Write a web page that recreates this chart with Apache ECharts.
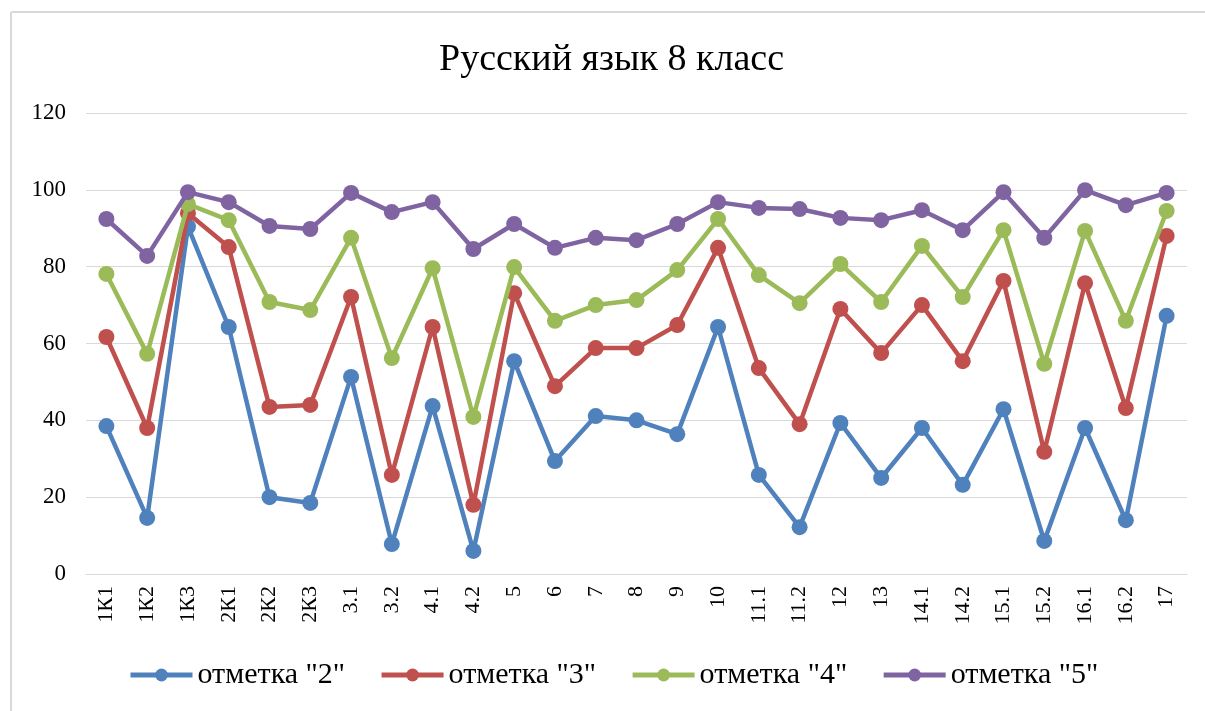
<!DOCTYPE html>
<html>
<head>
<meta charset="utf-8">
<script src="https://cdn.jsdelivr.net/npm/echarts@6/dist/echarts.min.js"></script>
<style>
  html, body { margin: 0; padding: 0; background: #ffffff; }
  #chart { width: 1205px; height: 711px; }
</style>
</head>
<body>
<div id="chart"></div>
<script>
// Task labels along the x axis
const categories = ['1К1', '1К2', '1К3', '2К1', '2К2', '2К3', '3.1', '3.2', '4.1', '4.2', '5', '6', '7', '8', '9', '10',
  '11.1', '11.2', '12', '13', '14.1', '14.2', '15.1', '15.2', '16.1', '16.2', '17'];

// Percent of students completing each task, grouped by final mark
const mark2 = [38.5, 14.6, 90.4, 64.3, 20, 18.5, 51.3, 7.8, 43.7, 6, 55.4, 29.4, 41.1, 40, 36.4, 64.3,
  25.8, 12.2, 39.3, 25, 38, 23.2, 42.9, 8.6, 38, 14, 67.2];
const mark3 = [61.7, 38, 93.9, 85.1, 43.5, 44, 72.1, 25.8, 64.3, 18, 73.1, 48.9, 58.8, 58.8, 64.8, 84.9,
  53.6, 39, 69, 57.5, 70, 55.4, 76.3, 31.8, 75.7, 43.2, 88];
const mark4 = [78.1, 57.3, 96.3, 92.1, 70.8, 68.7, 87.5, 56.2, 79.6, 40.9, 79.9, 65.9, 70, 71.3, 79.1, 92.4,
  77.8, 70.5, 80.7, 70.8, 85.4, 72.1, 89.5, 54.7, 89.3, 65.9, 94.5];
const mark5 = [92.4, 82.8, 99.4, 96.8, 90.6, 89.8, 99.2, 94.2, 96.8, 84.6, 91.1, 84.9, 87.5, 86.9, 91.1, 96.8,
  95.3, 95, 92.7, 92.1, 94.7, 89.5, 99.4, 87.5, 99.9, 96, 99.2];

const seriesNames = ['отметка "2"', 'отметка "3"', 'отметка "4"', 'отметка "5"'];
const seriesData = [mark2, mark3, mark4, mark5];
const colors = ['#4F81BD', '#C0504D', '#9BBB59', '#8064A2'];

const FONT = '"Liberation Serif", "Times New Roman", serif';

const chart = echarts.init(document.getElementById('chart'));
chart.setOption({
  animation: false,
  backgroundColor: '#ffffff',
  color: colors,
  title: {
    text: 'Русский язык 8 класс',
    left: 434,
    top: 36,
    textStyle: { fontFamily: FONT, fontSize: 38, fontWeight: 'normal', color: '#000000' }
  },
  graphic: [
    { type: 'line', shape: { x1: 11, y1: 12, x2: 1205, y2: 12 }, style: { stroke: '#d9d9d9', lineWidth: 2 } },
    { type: 'line', shape: { x1: 11, y1: 12, x2: 11, y2: 711 }, style: { stroke: '#d9d9d9', lineWidth: 2 } }
  ],
  grid: { left: 86, right: 18, top: 113, bottom: 137, containLabel: false },
  legend: {
    bottom: 16,
    left: 123,
    itemWidth: 62,
    itemHeight: 16,
    itemGap: 34,
    textStyle: { fontFamily: FONT, fontSize: 30, color: '#000000' },
    lineStyle: { width: 5 },
    data: seriesNames
  },
  xAxis: {
    type: 'category',
    data: categories,
    boundaryGap: true,
    axisLine: { show: true, lineStyle: { color: '#d9d9d9', width: 1 } },
    axisTick: { show: false },
    axisLabel: {
      rotate: 90,
      interval: 0,
      margin: 12,
      fontFamily: FONT,
      fontSize: 22,
      color: '#000000'
    }
  },
  yAxis: {
    type: 'value',
    min: 0,
    max: 120,
    interval: 20,
    axisLine: { show: false },
    axisTick: { show: false },
    axisLabel: { fontFamily: FONT, fontSize: 23, color: '#000000', margin: 20 },
    splitLine: { lineStyle: { color: '#d9d9d9', width: 1 } }
  },
  series: seriesData.map((d, i) => ({
    name: seriesNames[i],
    type: 'line',
    data: d,
    symbol: 'circle',
    symbolSize: 16,
    lineStyle: { width: 4.5, color: colors[i] },
    itemStyle: { color: colors[i] },
    z: 2 + i
  }))
});
</script>
</body>
</html>
